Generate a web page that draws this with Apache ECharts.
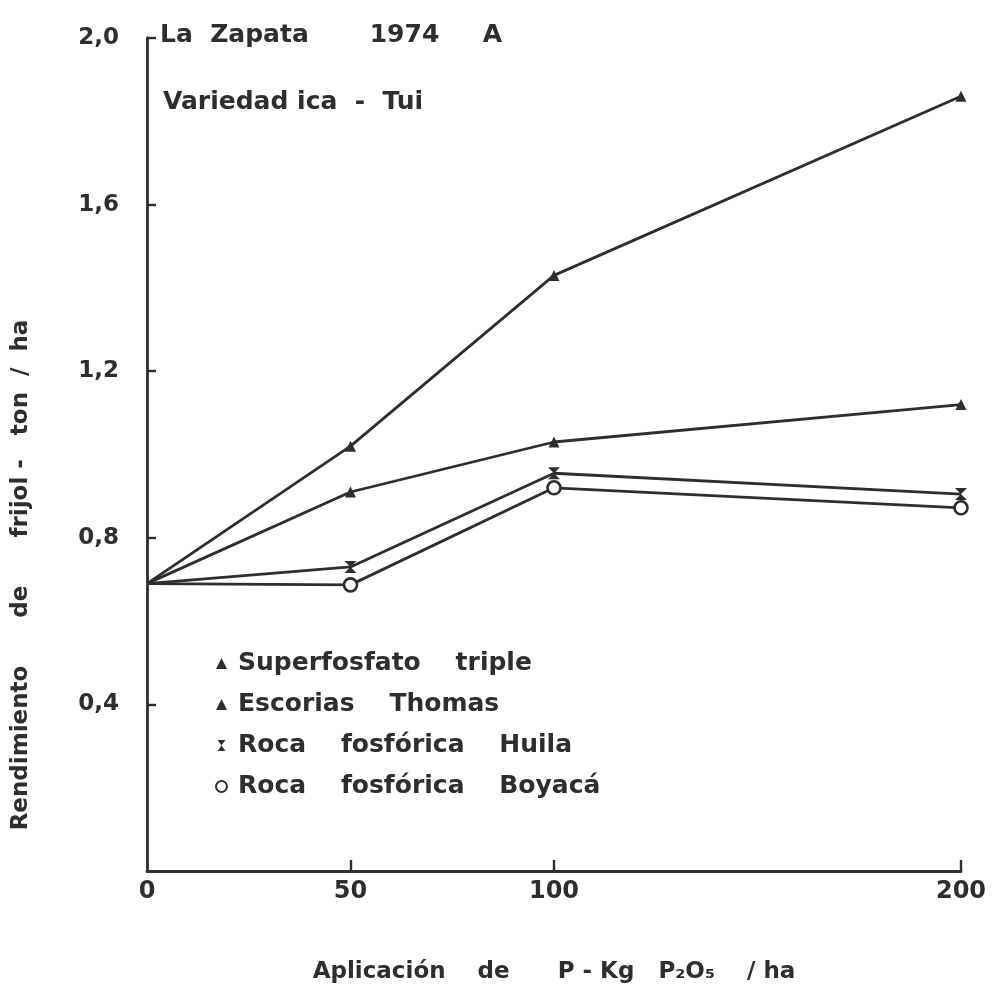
<!DOCTYPE html>
<html>
<head>
<meta charset="utf-8">
<script src="https://cdn.jsdelivr.net/npm/echarts@6/dist/echarts.min.js"></script>
<style>
html,body{margin:0;padding:0;background:#fff;}
#c{width:994px;height:1001px;}
</style>
</head>
<body>
<div id="c"></div>
<script>
// Data (P2O5 kg/ha vs yield t/ha)
var xValues = [0, 50, 100, 200];
var seriesNames = ['Superfosfato    triple', 'Escorias    Thomas', 'Roca    fosfórica    Huila', 'Roca    fosfórica    Boyacá'];
var superfosfato = [0.69, 1.02, 1.43, 1.86];
var escorias = [0.69, 0.91, 1.03, 1.12];
var rocaHuila = [0.69, 0.73, 0.955, 0.905];
var rocaBoyaca = [0.69, 0.687, 0.92, 0.872];
var xTickLabels = [0, 50, 100, 200];
var yTickLabels = [0.4, 0.8, 1.2, 1.6, 2.0];

var ink = '#2e2e2e';
var font = 'DejaVu Sans';
var hourglass = 'path://M0,0 L10,0 L5,7 Z M5,7 L10,14 L0,14 Z';

function pts(arr) {
  return arr.map(function (v, i) {
    var d = { value: [xValues[i], v] };
    if (i === 0) d.symbol = 'none';
    return d;
  });
}

function mk(name, arr, symbol, size, fill) {
  return {
    name: name,
    type: 'line',
    data: pts(arr),
    symbol: symbol,
    symbolSize: size,
    showSymbol: true,
    lineStyle: { color: ink, width: 2.8 },
    itemStyle: { color: fill, borderColor: ink, borderWidth: fill === '#ffffff' ? 2.6 : 0 },
    z: fill === '#ffffff' ? 3 : 2,
    animation: false
  };
}

var chart = echarts.init(document.getElementById('c'), null, { renderer: 'canvas' });
chart.setOption({
  backgroundColor: '#ffffff',
  animation: false,
  textStyle: { fontFamily: font },
  grid: { left: 147, right: 33, top: 38, bottom: 130, containLabel: false },
  xAxis: {
    type: 'value',
    min: 0, max: 200, interval: 50,
    name: 'Aplicación    de      P - Kg   P₂O₅    / ha',
    nameLocation: 'middle',
    nameGap: 90,
    nameTextStyle: { color: ink, fontSize: 23, fontWeight: 'bold', fontFamily: font },
    axisLine: { lineStyle: { color: ink, width: 2.8 } },
    axisTick: { show: true, inside: true, length: 11, lineStyle: { color: ink, width: 2.4 }, customValues: [50, 100, 200] },
    axisLabel: { color: ink, fontSize: 24, fontWeight: 'bold', margin: 9, customValues: xTickLabels, formatter: function (v) { return String(v); } },
    splitLine: { show: false }
  },
  yAxis: {
    type: 'value',
    min: 0, max: 2.0, interval: 0.4,
    axisLine: { show: true, lineStyle: { color: ink, width: 2.8 } },
    axisTick: { show: true, inside: true, length: 9, lineStyle: { color: ink, width: 2.4 }, customValues: yTickLabels },
    axisLabel: {
      color: ink, fontSize: 23, fontWeight: 'bold', margin: 28,
      customValues: yTickLabels,
      formatter: function (v) { return v.toFixed(1).replace('.', ','); }
    },
    splitLine: { show: false }
  },
  legend: {
    orient: 'vertical',
    left: 210,
    top: 646,
    itemWidth: 11,
    itemHeight: 11,
    itemGap: 16,
    textStyle: { color: ink, fontSize: 25, fontWeight: 'bold', fontFamily: font, padding: [0, 0, 0, 6] },
    data: [
      { name: seriesNames[0], icon: 'triangle' },
      { name: seriesNames[1], icon: 'triangle' },
      { name: seriesNames[2], icon: hourglass },
      { name: seriesNames[3], icon: 'circle' }
    ]
  },
  graphic: [
    { type: 'text', left: 160, top: 23, style: { text: 'La  Zapata       1974     A', fill: ink, font: 'bold 25px "DejaVu Sans"' } },
    { type: 'text', left: 163, top: 90, style: { text: 'Variedad ica  -  Tui', fill: ink, font: 'bold 25px "DejaVu Sans"' } },
    { type: 'text', x: 21, y: 575, rotation: Math.PI / 2,
      style: { text: 'Rendimiento      de      frijol -   ton  /  ha', fill: ink, font: 'bold 23px "DejaVu Sans"', textAlign: 'center', textVerticalAlign: 'middle' } }
  ],
  series: [
    mk(seriesNames[0], superfosfato, 'triangle', 11, ink),
    mk(seriesNames[1], escorias, 'triangle', 11, ink),
    mk(seriesNames[2], rocaHuila, hourglass, 12, ink),
    mk(seriesNames[3], rocaBoyaca, 'circle', 13, '#ffffff')
  ]
});
</script>
</body>
</html>
